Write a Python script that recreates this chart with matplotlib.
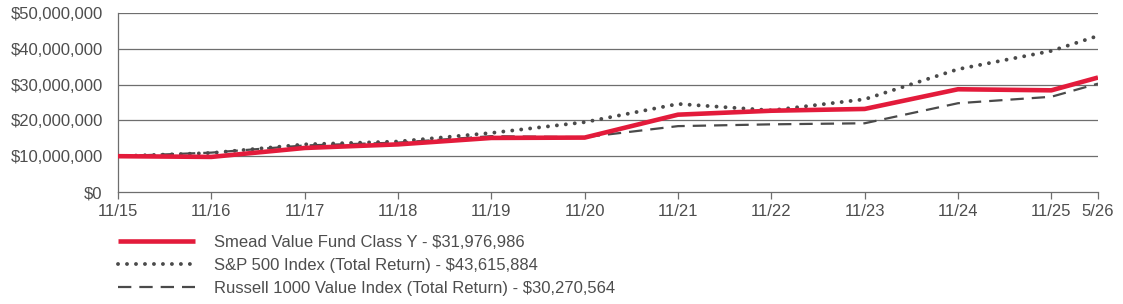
import matplotlib
matplotlib.use("Agg")
import matplotlib.pyplot as plt
from matplotlib.ticker import FuncFormatter

plt.rcParams['font.family'] = ['Liberation Sans', 'DejaVu Sans']

# ---- data ----
x_labels = ["11/15", "11/16", "11/17", "11/18", "11/19", "11/20",
            "11/21", "11/22", "11/23", "11/24", "11/25", "5/26"]
x_pos = [0, 1, 2, 3, 4, 5, 6, 7, 8, 9, 10, 10.5]

smead = [10.0, 9.8, 12.3, 13.3, 15.1, 15.2, 21.6, 22.7, 23.2, 28.7, 28.4, 31.976986]
sp500 = [10.0, 10.9, 13.3, 14.1, 16.5, 19.5, 24.6, 22.8, 25.9, 34.3, 39.4, 43.615884]
russell = [10.0, 11.0, 13.0, 13.8, 15.6, 15.3, 18.4, 18.9, 19.2, 24.8, 26.6, 30.270564]

series_names = ["Smead Value Fund Class Y - $31,976,986",
                "S&P 500 Index (Total Return) - $43,615,884",
                "Russell 1000 Value Index (Total Return) - $30,270,564"]

y_ticks = [0, 10, 20, 30, 40, 50]

# ---- figure ----
W, H = 1123, 304
fig = plt.figure(figsize=(W / 100, H / 100), dpi=100)
ax = fig.add_axes([118 / W, 1 - 192 / H, (1098 - 118) / W, (192 - 13) / H])

RED = "#E31B3B"
GREY = "#4a4a4a"
GRID = "#6e6e6e"
TXT = "#4d4d4d"

for y in y_ticks[1:]:
    ax.axhline(y, color=GRID, lw=0.9, zorder=1)

l_russ, = ax.plot(x_pos, russell, color=GREY, lw=1.6,
                  linestyle=(0, (6.0, 3.6)), zorder=2)
l_sp, = ax.plot(x_pos, sp500, color=GREY, lw=2.8,
                linestyle=(0, (0.01, 2.3)), dash_capstyle='round', zorder=3)
l_sm, = ax.plot(x_pos, smead, color=RED, lw=3.3, solid_capstyle='butt', zorder=4)

ax.set_xlim(0, 10.5)
ax.set_ylim(0, 50)
ax.set_xticks(x_pos)
ax.set_xticklabels(x_labels)
ax.set_yticks(y_ticks)
ax.yaxis.set_major_formatter(FuncFormatter(lambda v, p: "$0" if v == 0 else "${:,.0f}".format(v * 1e6)))

for s in ["top", "right"]:
    ax.spines[s].set_visible(False)
for s in ["left", "bottom"]:
    ax.spines[s].set_color(GRID)
    ax.spines[s].set_linewidth(0.9)

ax.tick_params(axis='x', length=5, width=0.9, color=GRID, pad=4, labelsize=12, labelcolor=TXT)
ax.tick_params(axis='y', length=0, pad=11, labelsize=12, labelcolor=TXT)

leg = fig.legend([l_sm, l_sp, l_russ], series_names, loc='upper left',
                 bbox_to_anchor=(118 / W, 1 - 235 / H), frameon=False,
                 fontsize=12, handlelength=4.6, handletextpad=1.15,
                 labelspacing=0.47, borderaxespad=0, borderpad=0)
for t in leg.get_texts():
    t.set_color(TXT)

fig.savefig("out.png", dpi=100)
